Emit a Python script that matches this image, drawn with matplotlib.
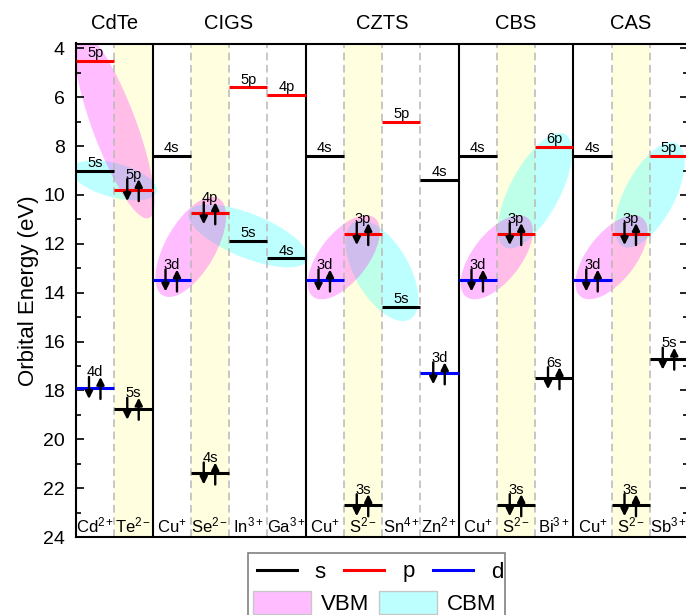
"""Orbital energy diagram for CdTe, CIGS, CZTS, CBS and CAS absorbers.

Each ion gets one column; filled levels carry an electron pair and the
shaded ellipses mark which orbitals make up the VBM / CBM.
"""

import matplotlib

matplotlib.use("Agg")  # headless
import matplotlib.pyplot as plt
import numpy as np
from matplotlib.lines import Line2D
from matplotlib.patches import Ellipse, Patch, Rectangle
from matplotlib.ticker import MultipleLocator
from matplotlib.transforms import ScaledTranslation, blended_transform_factory

plt.rcParams["font.family"] = ["Liberation Sans", "DejaVu Sans"]
plt.rcParams["mathtext.fontset"] = "custom"
plt.rcParams["mathtext.rm"] = "Liberation Sans"
plt.rcParams["mathtext.it"] = "Liberation Sans:italic"
plt.rcParams["mathtext.default"] = "regular"

# compounds and their ions, left to right
groups = ["CdTe", "CIGS", "CZTS", "CBS", "CAS"]
group_size = [2, 4, 4, 3, 3]
ions = ["Cd$^{2+}$", "Te$^{2-}$",
        "Cu$^{+}$", "Se$^{2-}$", "In$^{3+}$", "Ga$^{3+}$",
        "Cu$^{+}$", "S$^{2-}$", "Sn$^{4+}$", "Zn$^{2+}$",
        "Cu$^{+}$", "S$^{2-}$", "Bi$^{3+}$",
        "Cu$^{+}$", "S$^{2-}$", "Sb$^{3+}$"]

# orbital levels: ion column, orbital, energy (eV), occupied (draw electron pair)
level_ion = [0, 0, 0, 1, 1,
             2, 2, 3, 3, 4, 4, 5, 5,
             6, 6, 7, 7, 8, 8, 9, 9,
             10, 10, 11, 11, 12, 12,
             13, 13, 14, 14, 15, 15]
level_orb = ["5p", "5s", "4d", "5p", "5s",
             "4s", "3d", "4p", "4s", "5p", "5s", "4p", "4s",
             "4s", "3d", "3p", "3s", "5p", "5s", "4s", "3d",
             "4s", "3d", "3p", "3s", "6p", "6s",
             "4s", "3d", "3p", "3s", "5p", "5s"]
level_e = [4.5, 9.0, 17.9, 9.8, 18.75,
           8.4, 13.5, 10.75, 21.4, 5.6, 11.9, 5.9, 12.6,
           8.4, 13.5, 11.6, 22.7, 7.0, 14.6, 9.4, 17.3,
           8.4, 13.5, 11.6, 22.7, 8.05, 17.5,
           8.4, 13.5, 11.6, 22.7, 8.4, 16.7]
level_full = [0, 0, 1, 1, 1,
              0, 1, 1, 1, 0, 0, 0, 0,
              0, 1, 1, 1, 0, 0, 0, 1,
              0, 1, 1, 1, 0, 1,
              0, 1, 1, 1, 0, 1]

# band edges: pairs of levels (indices above) that mix
vbm_pairs = [(0, 3), (6, 7), (14, 15), (22, 23), (28, 29)]
cbm_pairs = [(1, 3), (7, 12), (15, 18), (23, 25), (29, 31)]

# ellipse look (half-length px, half-width px, tilt deg) -- purely cosmetic
vbm_shape = [(99, 22, -69.6), (56, 25, 60), (50, 24, 52), (50, 24, 52), (50, 24, 52)]
cbm_shape = [(44, 17, -15), (64, 22, -22), (56, 27, -60), (64, 25, 62), (58, 25, 62)]

ORB_COLOR = {"s": "black", "p": "#ff0000", "d": "#0000ff"}
VBM_COLOR = (1.0, 0.0, 1.0, 0.26)
CBM_COLOR = (0.0, 1.0, 1.0, 0.26)

fig = plt.figure(figsize=(6.86, 6.15), dpi=100)
ax = fig.add_axes([76 / 686, 78 / 615, 612 / 686, 493.5 / 615])
ax.set_xlim(0, len(ions))
ax.set_ylim(24, 3.8)

# anion columns get a pale yellow background
for i, name in enumerate(ions):
    if "-" in name:
        ax.axvspan(i, i + 1, color="#ffffe0", lw=0, zorder=0)

bounds = set(np.cumsum(group_size)[:-1].tolist())
for x in range(1, len(ions)):
    if x in bounds:
        ax.axvline(x, color="black", lw=1.5, zorder=3)
    else:
        ax.axvline(x, color="#b8b8b8", lw=1.1, ls=(0, (5, 3)), zorder=2)


def add_band(pair, shape, color):
    i, j = pair
    cx = (level_ion[i] + level_ion[j]) / 2 + 0.5
    cy = (level_e[i] + level_e[j]) / 2
    a, b, tilt = shape
    # size in pixels, centre in data coords
    trans = fig.dpi_scale_trans + ScaledTranslation(cx, cy, ax.transData)
    ax.add_patch(Ellipse((0, 0), 2 * a / fig.dpi, 2 * b / fig.dpi, angle=tilt,
                         transform=trans, facecolor=color, lw=0, zorder=1))


for pair, shape in zip(cbm_pairs, cbm_shape):
    add_band(pair, shape, CBM_COLOR)
for pair, shape in zip(vbm_pairs, vbm_shape):
    add_band(pair, shape, VBM_COLOR)

arrow = dict(arrowstyle="-|>", color="black", lw=1.7, mutation_scale=11,
             shrinkA=0, shrinkB=0)
for ion, orb, e, full in zip(level_ion, level_orb, level_e, level_full):
    ax.hlines(e, ion, ion + 1, color=ORB_COLOR[orb[-1]], lw=2.2, zorder=4)
    if full:
        xd, xu = ion + 0.34, ion + 0.64
        ax.annotate("", xy=(xd, e + 0.45), xytext=(xd, e - 0.45),
                    arrowprops=arrow, zorder=5)
        ax.annotate("", xy=(xu, e - 0.45), xytext=(xu, e + 0.45),
                    arrowprops=arrow, zorder=5)
    ax.text(ion + 0.5, e - (0.47 if full else 0.16), orb, ha="center",
            va="baseline", fontsize=10.5, zorder=6)

for i, name in enumerate(ions):
    ax.text(i + 0.5, 23.8, name, ha="center", va="baseline", fontsize=12, zorder=6)

top = blended_transform_factory(ax.transData, ax.transAxes)
starts = np.cumsum(group_size) - np.array(group_size)
for g, s, n in zip(groups, starts, group_size):
    ax.text(s + n / 2, 1.03, g, transform=top, ha="center", va="baseline", fontsize=14.5)

ax.set_xticks([])
ax.set_yticks(range(4, 25, 2))
ax.yaxis.set_minor_locator(MultipleLocator(1))
ax.tick_params(axis="y", which="both", direction="in", right=True, width=1.2,
               labelsize=14, pad=8)
ax.tick_params(axis="y", which="major", length=6)
ax.tick_params(axis="y", which="minor", length=3.5)
ax.set_ylabel("Orbital Energy (eV)", fontsize=16, labelpad=3)
for sp in ax.spines.values():
    sp.set_linewidth(1.5)

# legend: lines on the first row, band patches on the second, one shared frame
line_handles = [Line2D([], [], color=ORB_COLOR[k], lw=2.2) for k in "spd"]
fig.legend(line_handles, list("spd"), ncol=3, loc="center",
           bbox_to_anchor=(380 / 686, 43 / 615), frameon=False, fontsize=16,
           handlelength=1.8, handletextpad=0.8, columnspacing=0.85)
band_handles = [Patch(facecolor=VBM_COLOR, edgecolor="#c8c8c8"),
                Patch(facecolor=CBM_COLOR, edgecolor="#c8c8c8")]
fig.legend(band_handles, ["VBM", "CBM"], ncol=2, loc="center",
           bbox_to_anchor=(375 / 686, 12 / 615), frameon=False, fontsize=16,
           handlelength=2.6, handleheight=1.25, handletextpad=0.45,
           columnspacing=0.45)
fig.add_artist(Rectangle((248 / 686, -0.05), 257 / 686, 0.05 + 62 / 615,
                         transform=fig.transFigure, fill=False,
                         edgecolor="#808080", lw=1.2))

fig.savefig("out.png", dpi=100)
